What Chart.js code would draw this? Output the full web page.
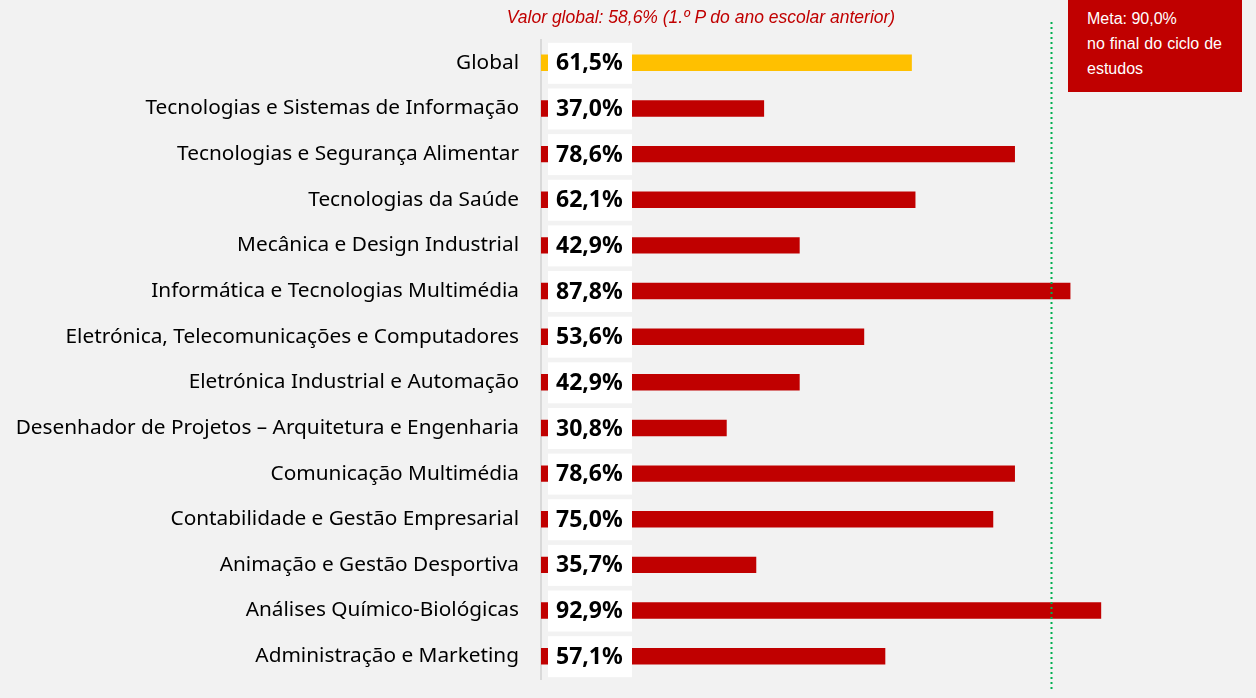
<!DOCTYPE html>
<html>
<head>
<meta charset="utf-8">
<script src="https://cdn.jsdelivr.net/npm/chart.js@4.4.0/dist/chart.umd.min.js"></script>
<style>
  html, body { margin: 0; padding: 0; background: #f2f2f2; }
  #wrap { position: relative; width: 1256px; height: 698px; }
  #chart { position: absolute; left: 0; top: 0; }
  #subtitle {
    position: absolute; left: 440px; top: 7px; width: 522px; text-align: center;
    font-family: 'Liberation Sans Narrow', 'Liberation Sans', sans-serif;
    font-style: italic; font-size: 17.5px; color: #c00000;
  }
  #meta {
    position: absolute; left: 1068px; top: 0; width: 174px; height: 92px;
    background: #c00000; color: #fff; box-sizing: border-box; padding: 6px 20px 0 19px;
    font-family: 'Liberation Sans Narrow', 'Liberation Sans', sans-serif;
    font-size: 16px; line-height: 25px; text-align: justify;
  }
</style>
</head>
<body>
<div id="wrap">
  <canvas id="chart" width="1256" height="698"></canvas>
  <div id="subtitle">Valor global: 58,6% (1.º P do ano escolar anterior)</div>
  <div id="meta">Meta: 90,0%<br>no final do ciclo de estudos</div>
</div>
<script>
// categories (top to bottom)
const courses = [
  'Global',
  'Tecnologias e Sistemas de Informação',
  'Tecnologias e Segurança Alimentar',
  'Tecnologias da Saúde',
  'Mecânica e Design Industrial',
  'Informática e Tecnologias Multimédia',
  'Eletrónica, Telecomunicações e Computadores',
  'Eletrónica Industrial e Automação',
  'Desenhador de Projetos – Arquitetura e Engenharia',
  'Comunicação Multimédia',
  'Contabilidade e Gestão Empresarial',
  'Animação e Gestão Desportiva',
  'Análises Químico-Biológicas',
  'Administração e Marketing'
];

// success rate (%)
const rates = [61.5, 37.0, 78.6, 62.1, 42.9, 87.8, 53.6, 42.9, 30.8, 78.6, 75.0, 35.7, 92.9, 57.1];

// position of the dotted green reference line (x units)
const targetLine = 84.6;

const barColors = courses.map(c => c === 'Global' ? '#ffc000' : '#c00000');

function fmt(v) {
  return v.toFixed(1).replace('.', ',') + '%';
}

// white boxes with the values, sitting on top of the bars near the axis
const valueBoxes = {
  id: 'valueBoxes',
  afterDatasetsDraw(chart) {
    const ctx = chart.ctx;
    const x0 = chart.scales.x.getPixelForValue(0);
    const meta = chart.getDatasetMeta(0);
    ctx.save();
    meta.data.forEach((bar, i) => {
      ctx.fillStyle = '#ffffff';
      ctx.fillRect(x0 + 7, bar.y - 20, 84, 41);
      ctx.fillStyle = '#000000';
      ctx.font = "bold 23px 'Noto Sans', sans-serif";
      ctx.textAlign = 'left';
      ctx.textBaseline = 'middle';
      ctx.fillText(fmt(rates[i]), x0 + 15, bar.y + 1);
    });
    ctx.restore();
  }
};

// dotted green target line
const targetMarker = {
  id: 'targetMarker',
  afterDraw(chart) {
    const ctx = chart.ctx;
    const x = Math.round(chart.scales.x.getPixelForValue(targetLine)) + 0.5;
    ctx.save();
    ctx.strokeStyle = '#00b050';
    ctx.lineWidth = 2;
    ctx.setLineDash([2, 3]);
    ctx.beginPath();
    ctx.moveTo(x, 22);
    ctx.lineTo(x, 690);
    ctx.stroke();
    ctx.restore();
  }
};

new Chart(document.getElementById('chart').getContext('2d'), {
  type: 'bar',
  data: {
    labels: courses,
    datasets: [{
      data: rates,
      backgroundColor: barColors,
      borderWidth: 0,
      barPercentage: 0.36,
      categoryPercentage: 1
    }]
  },
  options: {
    indexAxis: 'y',
    responsive: false,
    animation: false,
    layout: { padding: { top: 40, bottom: 19, right: 112, left: 0 } },
    plugins: {
      legend: { display: false },
      tooltip: { enabled: false }
    },
    scales: {
      x: {
        min: 0,
        max: 100,
        display: false
      },
      y: {
        // fixed label column, no extra end padding from the tick labels
        afterFit: scale => {
          scale.width = 541;
          scale.paddingTop = 0;
          scale.paddingBottom = 0;
        },
        grid: { display: false, drawTicks: false },
        border: { display: true, color: '#d9d9d9', width: 2 },
        ticks: {
          color: '#000000',
          padding: 22,
          font: { family: "'Noto Sans', sans-serif", size: 20.8 }
        }
      }
    }
  },
  plugins: [valueBoxes, targetMarker]
});
</script>
</body>
</html>
